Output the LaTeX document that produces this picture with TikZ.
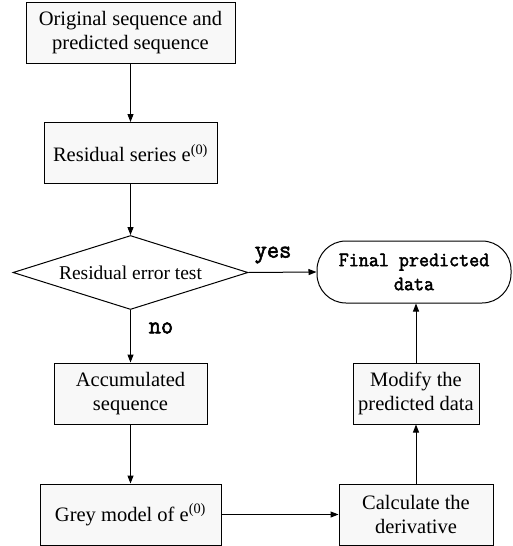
\documentclass[tikz,border=0pt]{standalone}
\usepackage{fontspec}
\setmainfont{Liberation Serif}
\newfontfamily\monof[FakeStretch=0.95,FakeBold=2.2]{Latin Modern Mono}
\usetikzlibrary{shapes.geometric,arrows.meta}
\definecolor{boxgrey}{HTML}{F8F8F8}
\begin{document}
\begin{tikzpicture}[x=1pt,y=-1pt,
  every node/.style={inner sep=0pt},
  box/.style={draw, line width=1pt, fill=boxgrey, align=center, minimum height=61pt,
    font=\fontsize{20.5}{24}\selectfont},
  monolabel/.style={font=\monof\fontsize{25}{28}\selectfont},
  arr/.style={line width=1pt, -{Triangle[length=8pt,width=6pt]}}]
\useasboundingbox (0,0) rectangle (513,546);
\node[box, minimum width=209pt] (b1) at (130.5,33) {Original sequence and\\predicted sequence};
\node[box, minimum width=173pt] (b2) at (130.5,153) {Residual series e\textsuperscript{(0)}};
\node[draw, line width=1pt, shape=diamond, aspect=3.2, minimum width=235pt, minimum height=74pt,
  font=\fontsize{19.5}{23}\selectfont] (dia) at (130.5,272.5) {Residual error test};
\node[draw, line width=1pt, rounded corners=29pt, minimum width=194pt, minimum height=62pt,
  align=center, font=\monof\fontsize{20.5}{24}\selectfont] (fin) at (414,272) {Final predicted\\data};
\node[box, minimum width=153pt] (acc) at (130.5,393.5) {Accumulated\\sequence};
\node[box, minimum width=181pt] (grey) at (130.5,514.5) {Grey model of e\textsuperscript{(0)}};
\node[box, minimum width=154pt] (calc) at (416,514.5) {Calculate the\\derivative};
\node[box, minimum width=126pt] (mod) at (416,393.5) {Modify the\\predicted data};
\draw[arr] (b1) -- (b2);
\draw[arr] (b2) -- (dia);
\draw[arr] (dia.east) -- (fin.west);
\draw[arr] (dia.south) -- (acc.north);
\draw[arr] (acc) -- (grey);
\draw[arr] (grey.east) -- (calc.west);
\draw[arr] (calc) -- (mod);
\draw[arr] (mod.north) -- (mod.north |- fin.south);
\node[monolabel] (yes) at (273,255) {yes};
\node[monolabel] (no) at (161,328) {no};
\end{tikzpicture}
\end{document}
